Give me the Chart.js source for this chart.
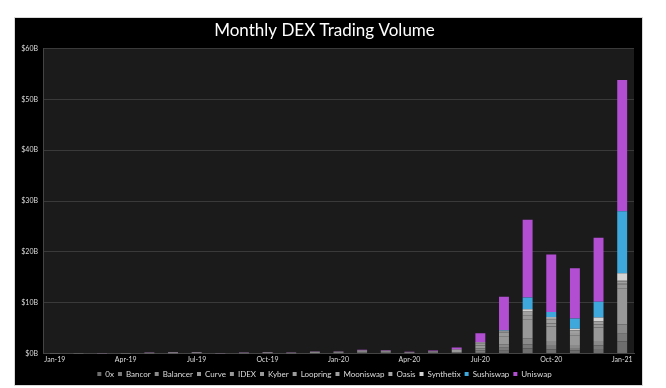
<!DOCTYPE html>
<html>
<head>
<meta charset="utf-8">
<script src="https://cdn.jsdelivr.net/npm/chart.js@4"></script>
<style>
  html, body { margin: 0; padding: 0; background: #fff; }
  #wrap { width: 666px; height: 388px; position: relative; }
</style>
</head>
<body>
<div id="wrap"><canvas id="chart-area" width="666" height="388"></canvas></div>
<script>
// months on the x axis
const months = ["Jan-19","Feb-19","Mar-19","Apr-19","May-19","Jun-19","Jul-19","Aug-19","Sep-19","Oct-19","Nov-19","Dec-19",
  "Jan-20","Feb-20","Mar-20","Apr-20","May-20","Jun-20","Jul-20","Aug-20","Sep-20","Oct-20","Nov-20","Dec-20","Jan-21"];

// monthly volume per exchange, $B
const zeroX     = [0.01,0.01,0.02,0.02,0.03,0.04,0.05,0.01,0.03,0.05,0.03,0.06,0.07,0.12,0.10,0.05,0.10,0.12,0.30,0.55,1.00,0.80,0.60,0.90,2.40];
const bancor    = [0.01,0.01,0.02,0.02,0.03,0.05,0.05,0.02,0.03,0.04,0.02,0.04,0.05,0.08,0.08,0.04,0.06,0.10,0.30,0.60,0.80,0.90,0.50,0.70,1.50];
const balancer  = [0,0,0,0,0,0,0,0,0,0,0,0,0.01,0.02,0.03,0.02,0.04,0.08,0.40,0.70,1.20,0.80,0.60,0.90,1.80];
const curve     = [0,0,0,0,0,0,0,0,0,0.01,0.01,0.02,0.03,0.06,0.09,0.05,0.10,0.20,0.60,1.45,3.60,2.80,1.80,2.60,7.00];
const idex      = [0.005,0.005,0.005,0.005,0.005,0.005,0.005,0.005,0.005,0.005,0.005,0.005,0.005,0.005,0.005,0.005,0.005,0.01,0.02,0.03,0.05,0.04,0.03,0.03,0.05];
const kyber     = [0.01,0.01,0.02,0.03,0.06,0.10,0.08,0.03,0.05,0.10,0.05,0.12,0.10,0.20,0.15,0.08,0.12,0.20,0.40,0.80,0.90,0.60,0.50,0.60,0.90];
const loopring  = [0,0,0,0,0,0,0,0,0,0,0,0,0,0,0,0,0,0,0.01,0.02,0.03,0.03,0.03,0.05,0.10];
const mooniswap = [0,0,0,0,0,0,0,0,0,0,0,0,0,0,0,0,0,0,0,0.10,0.60,0.80,0.50,0.50,0.40];
const oasis     = [0.01,0.01,0.02,0.02,0.05,0.06,0.07,0.02,0.04,0.07,0.05,0.11,0.10,0.10,0.10,0.04,0.05,0.06,0.08,0.10,0.15,0.10,0.08,0.10,0.15];
const synthetix = [0,0,0,0,0,0,0,0,0,0,0,0,0,0,0,0,0,0.05,0.10,0.15,0.40,0.30,0.25,0.70,1.50];
const sushiswap = [0,0,0,0,0,0,0,0,0,0,0,0,0,0,0,0,0,0,0,0.10,2.30,1.00,2.00,3.10,12.20];
const uniswap   = [0.04,0.04,0.04,0.04,0.05,0.07,0.07,0.04,0.04,0.06,0.04,0.06,0.07,0.15,0.12,0.10,0.15,0.40,1.80,6.60,15.30,11.30,9.90,12.60,25.80];

const yTicks = [0, 10, 20, 30, 40, 50, 60];

const series = [
  ["0x", zeroX, "#6e6e6e"],
  ["Bancor", bancor, "#7a7a7a"],
  ["Balancer", balancer, "#8a8a8a"],
  ["Curve", curve, "#989898"],
  ["IDEX", idex, "#989898"],
  ["Kyber", kyber, "#9a9a9a"],
  ["Loopring", loopring, "#9c9c9c"],
  ["Mooniswap", mooniswap, "#a0a0a0"],
  ["Oasis", oasis, "#a6a6a6"],
  ["Synthetix", synthetix, "#d4d4d4"],
  ["Sushiswap", sushiswap, "#3ea8dc"],
  ["Uniswap", uniswap, "#b24ed2"]
];

// black card + dark plot background
const cardBg = {
  id: "cardBg",
  beforeDraw(chart) {
    const c = chart.ctx;
    c.save();
    c.fillStyle = "#ffffff";
    c.fillRect(0, 0, chart.width, chart.height);
    c.fillStyle = "#000000";
    c.fillRect(15, 18, 627, 367);
    c.strokeStyle = "#d8d8d8";
    c.lineWidth = 1;
    c.strokeRect(14.5, 17.5, 628, 368);
    const a = chart.chartArea;
    c.fillStyle = "#1b1b1b";
    c.fillRect(a.left, a.top, a.right - a.left, a.bottom - a.top);
    c.restore();
  }
};

const config = {
  type: "bar",
  data: {
    labels: months,
    datasets: series.map(s => ({
      label: s[0],
      data: s[1],
      backgroundColor: s[2],
      borderWidth: 0,
      barPercentage: 0.42,
      categoryPercentage: 1
    }))
  },
  options: {
    responsive: false,
    animation: false,
    layout: { padding: { left: 15, right: 32, top: 0, bottom: 0 } },
    plugins: {
      title: {
        display: true,
        text: "Monthly DEX Trading Volume",
        color: "#ffffff",
        font: { family: "Lato", size: 17, weight: "normal" },
        padding: { top: 20, bottom: 8 }
      },
      legend: {
        position: "bottom",
        labels: {
          color: "#dddddd",
          font: { family: "Lato", size: 8 },
          boxWidth: 4,
          boxHeight: 4,
          padding: 4
        }
      },
      tooltip: { enabled: false }
    },
    scales: {
      x: {
        stacked: true,
        grid: { display: false, drawTicks: false },
        border: { color: "#444444" },
        ticks: {
          color: "#dddddd",
          font: { family: "Lato", size: 7 },
          autoSkip: false,
          maxRotation: 0,
          padding: 2,
          callback: function (v, i) { return i % 3 === 0 ? months[i] : ""; }
        }
      },
      y: {
        stacked: true,
        min: 0,
        max: 60,
        afterBuildTicks: function (scale) { scale.ticks = yTicks.map(v => ({ value: v })); },
        afterFit: function (scale) { scale.width = 28; },
        grid: { color: "#3a3a3a", drawTicks: false },
        border: { color: "#444444" },
        ticks: {
          color: "#dddddd",
          font: { family: "Lato", size: 7 },
          padding: 5,
          callback: function (v) { return "$" + v + "B"; }
        }
      }
    }
  },
  plugins: [cardBg]
};

const chart = new Chart(document.getElementById("chart-area").getContext("2d"), config);
</script>
</body>
</html>
